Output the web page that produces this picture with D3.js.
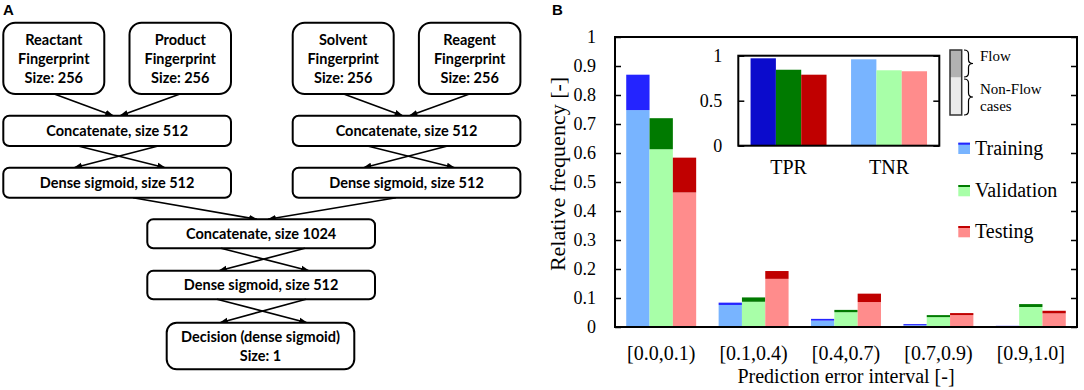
<!DOCTYPE html>
<html>
<head>
<meta charset="utf-8">
<script src="https://cdn.jsdelivr.net/npm/d3@7"></script>
<style>
  body { margin: 0; background: #fff; }
  svg { display: block; }
</style>
</head>
<body>
<div id="fig"></div>
<script>
// ---- data, panel A (network layers) ----
var fpNames = ["Reactant", "Product", "Solvent", "Reagent"];
var fpSize = 256;
var concatSmall = "Concatenate, size 512";
var denseLabel = "Dense sigmoid, size 512";
var concatBig = "Concatenate, size 1024";
var decisionLines = ["Decision (dense sigmoid)", "Size: 1"];

// ---- data, panel B ----
var categories = ["[0.0,0.1)", "[0.1,0.4)", "[0.4,0.7)", "[0.7,0.9)", "[0.9,1.0]"];
var seriesNames = ["Training", "Validation", "Testing"];
// non-flow part (light) and flow part (dark, stacked on top)
var nonFlowTraining   = [0.748, 0.076, 0.022, 0.006, 0.002];
var flowTraining      = [0.122, 0.008, 0.006, 0.004, 0.002];
var nonFlowValidation = [0.613, 0.087, 0.051, 0.034, 0.069];
var flowValidation    = [0.107, 0.015, 0.008, 0.007, 0.010];
var nonFlowTesting    = [0.464, 0.166, 0.086, 0.041, 0.047];
var flowTesting       = [0.120, 0.027, 0.029, 0.007, 0.009];
var yTicks = [0, 0.1, 0.2, 0.3, 0.4, 0.5, 0.6, 0.7, 0.8, 0.9, 1];

var insetCats = ["TPR", "TNR"];
var tprValues = [0.971, 0.844, 0.789];
var tnrValues = [0.960, 0.838, 0.827];
var insetTicks = [0, 0.5, 1];

var lightColors = ["#78b4ff", "#a8ffa8", "#ff8c8c"];
var darkColors  = ["#2424ff", "#007a00", "#c00000"];
var tprColors   = ["#0b0bcc", "#007a00", "#c00000"];

function init() {
    var w = 1084, h = 390;
    var svg = d3.select("#fig").append("svg")
        .attr("width", w)
        .attr("height", h);
    svg.append("rect").attr("width", w).attr("height", h).attr("fill", "#fff");

    drawFlowchart(svg);
    drawBars(svg);
}

// ================= panel A =================
function drawFlowchart(svg) {
    var g = svg.append("g");
    var font = "Lato, 'Open Sans', sans-serif";

    svg.append("defs").append("marker")
        .attr("id", "arr")
        .attr("viewBox", "0 -4 10 8")
        .attr("refX", 9).attr("refY", 0)
        .attr("markerWidth", 9).attr("markerHeight", 7)
        .attr("markerUnits", "userSpaceOnUse")
        .attr("orient", "auto")
        .append("path")
        .attr("d", "M0,-3.5L10,0L0,3.5Z")
        .attr("fill", "#000");

    g.append("text")
        .attr("x", 3).attr("y", 15)
        .style("font-family", "'Liberation Sans', Arial, sans-serif")
        .style("font-weight", "bold")
        .style("font-size", "15px")
        .text("A");

    function box(x, y, bw, bh, r, lines) {
        g.append("rect")
            .attr("x", x).attr("y", y)
            .attr("width", bw).attr("height", bh)
            .attr("rx", r).attr("ry", r)
            .attr("fill", "#fff")
            .attr("stroke", "#000")
            .attr("stroke-width", 2);
        var n = lines.length, lh = 19;
        var cy = y + bh / 2 - (n - 1) * lh / 2;
        lines.forEach(function(t, i) {
            g.append("text")
                .attr("x", x + bw / 2)
                .attr("y", cy + i * lh)
                .attr("dy", "0.36em")
                .attr("text-anchor", "middle")
                .style("font-family", font)
                .style("font-weight", "bold")
                .style("font-size", "14.5px")
                .text(t);
        });
    }

    function arrow(x1, y1, x2, y2) {
        g.append("line")
            .attr("x1", x1).attr("y1", y1)
            .attr("x2", x2).attr("y2", y2)
            .attr("stroke", "#000")
            .attr("stroke-width", 1.6)
            .attr("marker-end", "url(#arr)");
    }

    // two branches
    var branchX = [3.3, 292.7];
    var bw = 227.7;
    branchX.forEach(function(bx, b) {
        var cx = bx + bw / 2;
        var left = fpNames[b * 2], right = fpNames[b * 2 + 1];
        box(bx, 22.7, 101, 71.3, 12, [left, "Fingerprint", "Size: " + fpSize]);
        box(bx + bw - 101.5, 22.7, 101.5, 71.3, 12, [right, "Fingerprint", "Size: " + fpSize]);
        arrow(bx + 51, 94, cx - 4, 115.7);
        arrow(bx + bw - 51, 94, cx + 3, 115.7);
        box(bx, 115.7, bw, 30.3, 6, [concatSmall]);
        arrow(cx - 39, 146, cx + 48, 167.7);
        arrow(cx + 41, 146, cx - 43, 167.7);
        box(bx, 167.7, bw, 30, 6, [denseLabel]);
    });

    arrow(133, 197.7, 257, 219.3);
    arrow(396, 197.7, 268, 219.3);
    box(147.3, 219.3, 227.7, 29, 6, [concatBig]);
    arrow(221, 248.3, 309, 270.7);
    arrow(305, 248.3, 219, 270.7);
    box(147.3, 270.7, 227.7, 28.6, 6, [denseLabel]);
    arrow(217, 299.3, 307, 322.7);
    arrow(306, 299.3, 220, 322.7);
    box(166.7, 322.7, 187.6, 46.6, 10, decisionLines);
}

// ================= panel B =================
function drawBars(svg) {
    var serif = "'Liberation Serif', 'Times New Roman', serif";
    var left = 615, right = 1077, top = 37, bottom = 327;

    var nonFlow = [nonFlowTraining, nonFlowValidation, nonFlowTesting];
    var flow = [flowTraining, flowValidation, flowTesting];

    var x = d3.scaleBand()
        .domain(categories)
        .range([left, right])
        .paddingInner(0.243)
        .paddingOuter(0.1215);
    var xs = d3.scaleBand()
        .domain(seriesNames)
        .range([0, x.bandwidth()]);
    var y = d3.scaleLinear().domain([0, 1]).range([bottom, top]);

    svg.append("text")
        .attr("x", 552).attr("y", 15)
        .style("font-family", "'Liberation Sans', Arial, sans-serif")
        .style("font-weight", "bold")
        .style("font-size", "15px")
        .text("B");

    // bars
    var data = [];
    categories.forEach(function(c, i) {
        seriesNames.forEach(function(s, j) {
            data.push({cat: c, s: s, j: j, nf: nonFlow[j][i], f: flow[j][i]});
        });
    });

    var bars = svg.append("g").selectAll("g.bar")
        .data(data)
        .enter()
        .append("g")
        .attr("class", "bar");

    bars.append("rect")
        .attr("x", function(d) { return x(d.cat) + xs(d.s); })
        .attr("width", xs.bandwidth())
        .attr("y", function(d) { return y(d.nf); })
        .attr("height", function(d) { return y(0) - y(d.nf); })
        .attr("fill", function(d) { return lightColors[d.j]; });

    bars.append("rect")
        .attr("x", function(d) { return x(d.cat) + xs(d.s); })
        .attr("width", xs.bandwidth())
        .attr("y", function(d) { return y(d.nf + d.f); })
        .attr("height", function(d) { return y(d.nf) - y(d.nf + d.f); })
        .attr("fill", function(d) { return darkColors[d.j]; });

    // axes
    var fmt = function(d) { return d === 0 ? "0" : d === 1 ? "1" : d3.format(".1f")(d); };

    var yAxis = svg.append("g")
        .attr("transform", "translate(" + left + ",0)")
        .call(d3.axisLeft(y).tickValues(yTicks).tickFormat(fmt)
            .tickSize(-6).tickSizeOuter(0).tickPadding(19));
    var yAxisR = svg.append("g")
        .attr("transform", "translate(" + right + ",0)")
        .call(d3.axisRight(y).tickValues(yTicks).tickFormat("")
            .tickSize(-6).tickSizeOuter(0));
    var xAxis = svg.append("g")
        .attr("transform", "translate(0," + bottom + ")")
        .call(d3.axisBottom(x).tickSize(0).tickPadding(19));

    [yAxis, yAxisR, xAxis].forEach(function(a) {
        a.select(".domain").remove();
        a.selectAll("line").attr("stroke", "#000").attr("stroke-width", 1.5);
        a.selectAll("text")
            .attr("fill", "#000")
            .style("font-family", serif)
            .style("font-size", a === xAxis ? "20px" : "18px");
    });

    svg.append("rect")
        .attr("x", left).attr("y", top)
        .attr("width", right - left).attr("height", bottom - top)
        .attr("fill", "none")
        .attr("stroke", "#000")
        .attr("stroke-width", 2);

    svg.append("text")
        .attr("transform", "translate(565," + ((top + bottom) / 2 - 8) + ") rotate(-90)")
        .attr("text-anchor", "middle")
        .style("font-family", serif)
        .style("font-size", "22px")
        .text("Relative frequency [-]");

    svg.append("text")
        .attr("x", (left + right) / 2)
        .attr("y", 383)
        .attr("text-anchor", "middle")
        .style("font-family", serif)
        .style("font-size", "20px")
        .text("Prediction error interval [-]");

    // ---- inset ----
    var il = 738.3, ir = 939.3, it = 55.7, ib = 145.7;
    var xi = d3.scaleBand()
        .domain(insetCats)
        .range([il, ir])
        .paddingInner(0.244)
        .paddingOuter(0.122);
    var xis = d3.scaleBand()
        .domain(seriesNames)
        .range([0, xi.bandwidth()]);
    var yi = d3.scaleLinear().domain([0, 1]).range([ib, it]);

    var insetData = [];
    seriesNames.forEach(function(s, j) {
        insetData.push({cat: "TPR", s: s, v: tprValues[j], c: tprColors[j]});
        insetData.push({cat: "TNR", s: s, v: tnrValues[j], c: lightColors[j]});
    });

    svg.append("g").selectAll("rect")
        .data(insetData)
        .enter()
        .append("rect")
        .attr("x", function(d) { return xi(d.cat) + xis(d.s); })
        .attr("width", xis.bandwidth())
        .attr("y", function(d) { return yi(d.v); })
        .attr("height", function(d) { return yi(0) - yi(d.v); })
        .attr("fill", function(d) { return d.c; });

    var iy = svg.append("g")
        .attr("transform", "translate(" + il + ",0)")
        .call(d3.axisLeft(yi).tickValues(insetTicks).tickFormat(d3.format(""))
            .tickSize(-6).tickSizeOuter(0).tickPadding(16));
    var iyR = svg.append("g")
        .attr("transform", "translate(" + ir + ",0)")
        .call(d3.axisRight(yi).tickValues(insetTicks).tickFormat("")
            .tickSize(-6).tickSizeOuter(0));
    var ix = svg.append("g")
        .attr("transform", "translate(0," + ib + ")")
        .call(d3.axisBottom(xi).tickSize(0).tickPadding(14));

    [iy, iyR, ix].forEach(function(a) {
        a.select(".domain").remove();
        a.selectAll("line").attr("stroke", "#000").attr("stroke-width", 1.5);
        a.selectAll("text")
            .attr("fill", "#000")
            .style("font-family", serif)
            .style("font-size", a === ix ? "20px" : "18px");
    });

    svg.append("rect")
        .attr("x", il).attr("y", it)
        .attr("width", ir - il).attr("height", ib - it)
        .attr("fill", "none")
        .attr("stroke", "#000")
        .attr("stroke-width", 2);

    // ---- flow / non-flow key ----
    var key = svg.append("g");
    key.append("rect")
        .attr("x", 950).attr("y", 77.3)
        .attr("width", 11.7).attr("height", 37.7)
        .attr("fill", "#ebebeb");
    key.append("rect")
        .attr("x", 950).attr("y", 50)
        .attr("width", 11.7).attr("height", 27.3)
        .attr("fill", "#b2b2b2");
    key.append("rect")
        .attr("x", 950).attr("y", 50)
        .attr("width", 11.7).attr("height", 65)
        .attr("fill", "none")
        .attr("stroke", "#333")
        .attr("stroke-width", 1.5);

    function brace(x0, y0, y1) {
        var ym = (y0 + y1) / 2, bw = 9, hx = x0 + bw / 2;
        return "M" + x0 + "," + y0 +
            "Q" + hx + "," + y0 + "," + hx + "," + (y0 + 4) +
            "L" + hx + "," + (ym - 4) +
            "Q" + hx + "," + ym + "," + (x0 + bw) + "," + ym +
            "Q" + hx + "," + ym + "," + hx + "," + (ym + 4) +
            "L" + hx + "," + (y1 - 4) +
            "Q" + hx + "," + y1 + "," + x0 + "," + y1;
    }
    key.append("path").attr("d", brace(964, 50, 77))
        .attr("fill", "none").attr("stroke", "#000").attr("stroke-width", 1.2);
    key.append("path").attr("d", brace(964, 79, 115))
        .attr("fill", "none").attr("stroke", "#000").attr("stroke-width", 1.2);

    [["Flow", 61], ["Non-Flow", 94], ["cases", 111]].forEach(function(t) {
        key.append("text")
            .attr("x", 980).attr("y", t[1])
            .style("font-family", serif)
            .style("font-size", "15px")
            .text(t[0]);
    });

    // ---- series legend ----
    var legY = [142.7, 185, 226];
    seriesNames.forEach(function(s, j) {
        key.append("rect")
            .attr("x", 958.3).attr("y", legY[j])
            .attr("width", 11.7).attr("height", 11.3)
            .attr("fill", lightColors[j]);
        key.append("rect")
            .attr("x", 958.3).attr("y", legY[j])
            .attr("width", 11.7).attr("height", 2)
            .attr("fill", darkColors[j]);
        key.append("text")
            .attr("x", 975).attr("y", legY[j] + 12.3)
            .style("font-family", serif)
            .style("font-size", "20px")
            .text(s);
    });
}

window.onload = init;
</script>
</body>
</html>
